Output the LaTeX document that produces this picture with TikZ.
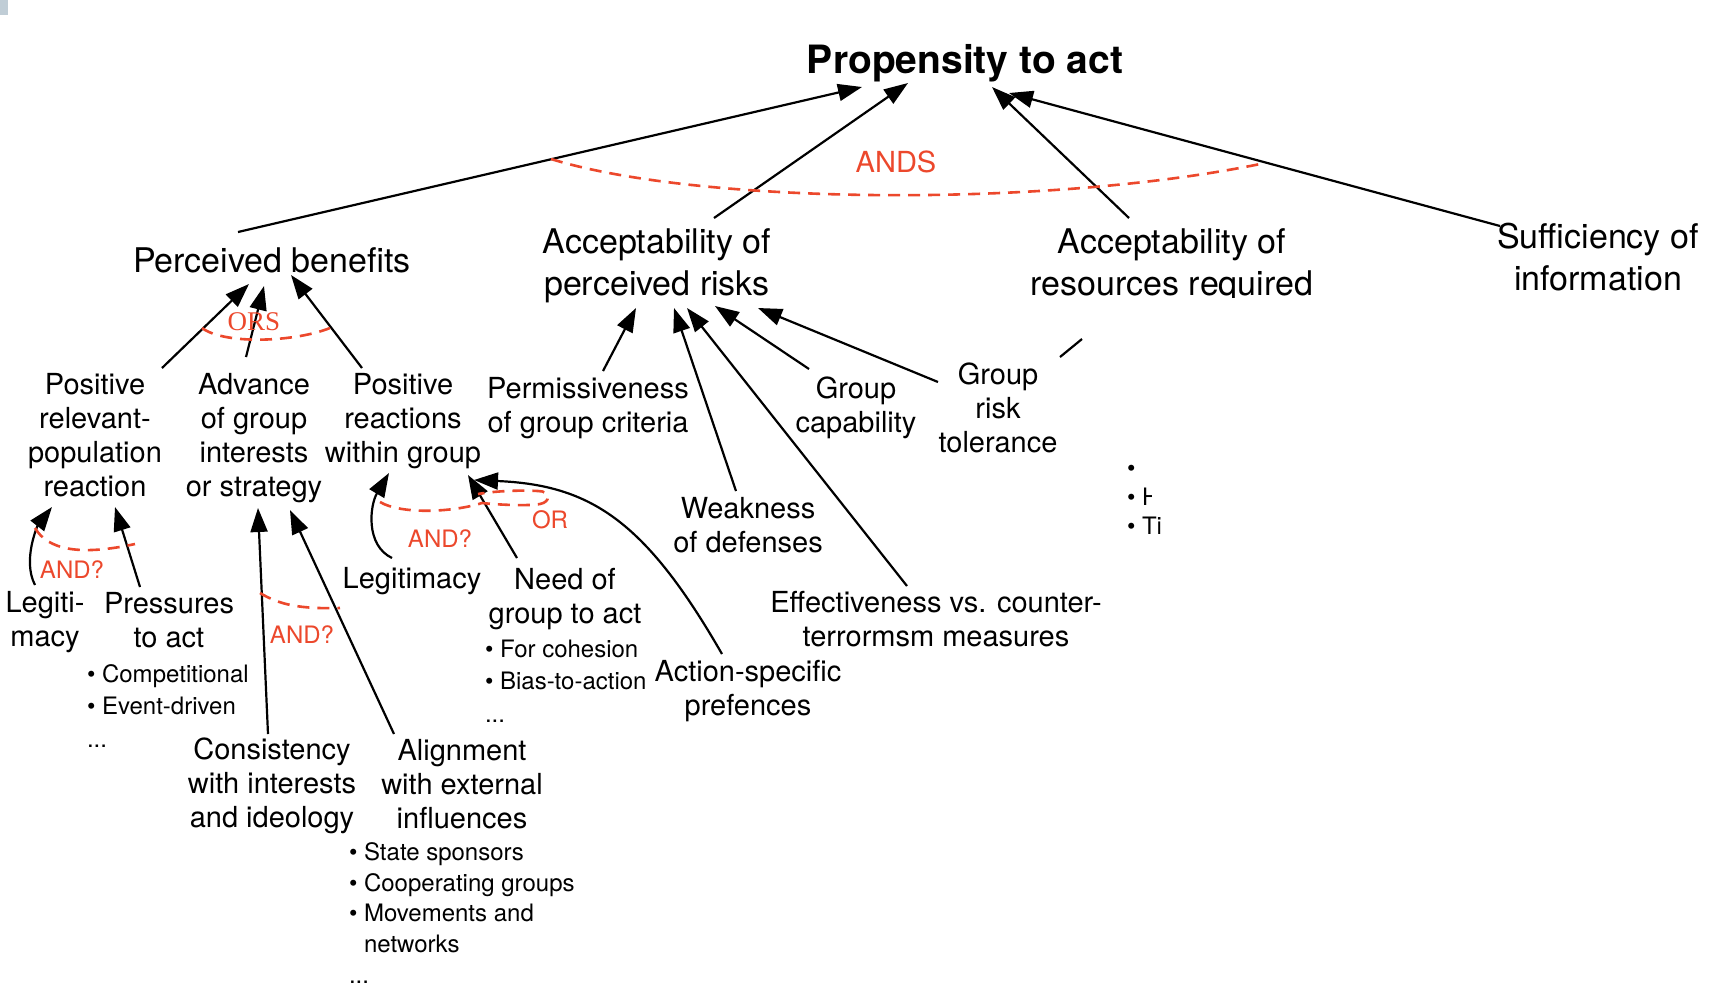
\documentclass[tikz,border=0pt]{standalone}
\usepackage{fontspec}
\setmainfont{TeX Gyre Heros}
\newfontfamily\labelserif{Liberation Serif}
\usetikzlibrary{arrows.meta}
\definecolor{andred}{RGB}{236,72,44}
\definecolor{tabgrey}{RGB}{192,205,214}

\begin{document}
\begin{tikzpicture}[x=0.5pt,y=-0.5pt,
  every node/.style={inner sep=0pt, outer sep=0pt},
  goalbox/.style={align=center, font=\bfseries\fontsize{19.5}{23}\selectfont},
  headline/.style={align=center, font=\fontsize{17}{21.25}\selectfont},
  factor/.style={align=center, font=\fontsize{14.5}{17.1}\selectfont},
  bullets/.style={align=left, anchor=west, font=\fontsize{12}{16.3}\selectfont},
  redlabel/.style={text=andred, font=\fontsize{12}{14}\selectfont},
  link/.style={line width=1.1pt, -{Triangle[length=12pt,width=8.5pt]}},
  plainlink/.style={line width=1.1pt},
  joiner/.style={andred, line width=1.3pt, dash pattern=on 6pt off 4pt},
]
% canvas
\fill[white] (0,0) rectangle (1710,987);
\useasboundingbox (0,0) rectangle (1710,987);
\fill[tabgrey] (0,0) rectangle (8,15);

% top goal
\node[goalbox] (title) at (965,63) {Propensity to act};

% first level factors
\node[headline] (pb)   at (272,260)  {Perceived benefits};
\node[headline] (ar)   at (657,266)  {Acceptability of\\perceived risks};
\begin{scope}
  \clip (1000,200) rectangle (1400,297);
  \node[headline] (ares) at (1172,266) {Acceptability of\\resources required};
\end{scope}
\node[headline] (suff) at (1598,257) {Sufficiency of\\information};

% second level factors
\node[factor] (prel)  at (95,435)  {Positive\\relevant-\\population\\reaction};
\node[factor] (adv)   at (254,438) {Advance\\of group\\interests\\or strategy};
\node[factor] (preac) at (403,421) {Positive\\reactions\\within group};
\node[factor] (perm)  at (588,408) {Permissiveness\\of group criteria};
\node[factor] (gcap)  at (856,408) {Group\\capability};
\node[factor] (grisk) at (998,408) {Group\\risk\\tolerance};
\node[factor] (weak)  at (748,525) {Weakness\\of defenses};
\node[factor] (eff)   at (936,619) {Effectiveness vs. counter-\\terrormsm measures};
\node[factor] (act)   at (748,691) {Action-specific\\prefences};

% third level factors
\node[factor] (legit) at (412,581) {Legitimacy};
\node[factor] (need)  at (565,599) {Need of\\group to act};
\node[factor] (legl)  at (45,622)  {Legiti-\\macy};
\node[factor] (press) at (169,620) {Pressures\\to act};
\node[factor] (cons)  at (272,786) {Consistency\\with interests\\and ideology};
\node[factor] (nalign) at (462,784) {Alignment\\with external\\influences};

% bullet lists
\node[bullets] (pressbul) at (87,706)
  {\textbullet\ Competitional\\\textbullet\ Event-driven\\...};
\node[bullets] (needbul) at (485,681)
  {\textbullet\ For cohesion\\\textbullet\ Bias-to-action\\...};
\node[bullets, font=\fontsize{12}{15.4}\selectfont] (alignbul) at (349,913)
  {\textbullet\ State sponsors\\\textbullet\ Cooperating groups\\\textbullet\ Movements and\\\phantom{\textbullet\ }networks\\...};
\begin{scope}
  \clip (1120,455) rectangle (1151,515) (1120,515) rectangle (1170,545);
  \node[bullets, font=\fontsize{12}{14.5}\selectfont] (resbul) at (1127,500)
    {\textbullet\\\textbullet\ H\\\textbullet\ Ti};
\end{scope}

% links into the goal
\draw[link] ([shift={(-34,-28)}]pb.center)   -- ([shift={(-103,24)}]title.center);
\draw[link] ([shift={(57,-48)}]ar.center)    -- ([shift={(-57,20)}]title.center);
\draw[link] ([shift={(-43,-48)}]ares.center) -- ([shift={(27,24)}]title.center);
\draw[link] ([shift={(-98,-31)}]suff.center) -- ([shift={(44,30)}]title.center);

% links into perceived benefits
\draw[link] ([shift={(67,-67)}]prel.center)  -- ([shift={(-23,24)}]pb.center);
\draw[link] ([shift={(-8,-81)}]adv.center)   -- ([shift={(-8,26)}]pb.center);
\draw[link] ([shift={(-41,-53)}]preac.center) -- ([shift={(19,15)}]pb.center);

% links into acceptability of perceived risks
\draw[link] ([shift={(15,-37)}]perm.center)   -- ([shift={(-21,42)}]ar.center);
\draw[link] ([shift={(-12,-34)}]weak.center)  -- ([shift={(17,42)}]ar.center);
\draw[link] ([shift={(-29,-33)}]eff.center)   -- ([shift={(30,42)}]ar.center);
\draw[link] ([shift={(-47,-39)}]gcap.center)  -- ([shift={(58,40)}]ar.center);
\draw[link] ([shift={(-60,-26)}]grisk.center) -- ([shift={(101,42)}]ar.center);

% stub below resources
\coordinate (stubA) at (1060,357);
\coordinate (stubB) at (1082,339);
\draw[plainlink] (stubA) -- (stubB);

% links into positive relevant-population reaction
\draw[link] ([shift={(-10,-37)}]legl.center) .. controls (22,560) and (38,525) .. ([shift={(-43,72)}]prel.center);
\draw[link] ([shift={(-29,-33)}]press.center) -- ([shift={(20,72)}]prel.center);

% links into advance of group interests
\draw[link] ([shift={(-4,-52)}]cons.center)    -- ([shift={(4,70)}]adv.center);
\draw[link] ([shift={(-68,-50)}]nalign.center) -- ([shift={(36,72)}]adv.center);

% links into positive reactions within group
\draw[link] ([shift={(-20,-23)}]legit.center) .. controls (365,545) and (370,505) .. ([shift={(-14,52)}]preac.center);
\draw[link] ([shift={(-48,-41)}]need.center) -- ([shift={(65,54)}]preac.center);
\draw[link] ([shift={(-26,-37)}]act.center) .. controls (645,520) and (590,485) .. ([shift={(71,59)}]preac.center);

% combination arcs
\draw[joiner] (551,159) .. controls (700,205) and (1050,208) .. (1265,163);
\draw[joiner] (202,328) .. controls (225,345) and (295,342) .. (330,328);
\draw[joiner] (35,528) .. controls (48,550) and (80,556) .. (135,544);
\draw[joiner] (260,593) .. controls (280,605) and (300,609) .. (340,608);
\draw[joiner] (380,502) .. controls (400,514) and (450,513) .. (482,503)
  .. controls (500,505) and (530,506) .. (540,504)
  .. controls (551,502) and (551,491) .. (538,491)
  .. controls (520,490) and (495,491) .. (478,494);

% combination labels
\node[text=andred, font=\fontsize{14.5}{17}\selectfont] (lands) at (896,162) {ANDS};
\node[text=andred, font=\labelserif\fontsize{13.5}{16}\selectfont] (lors) at (254,322) {ORS};
\node[redlabel] (landa) at (72,570)  {AND?};
\node[redlabel] (landb) at (302,635) {AND?};
\node[redlabel] (landc) at (440,539) {AND?};
\node[redlabel] (lor)   at (550,520) {OR};
\end{tikzpicture}
\end{document}
